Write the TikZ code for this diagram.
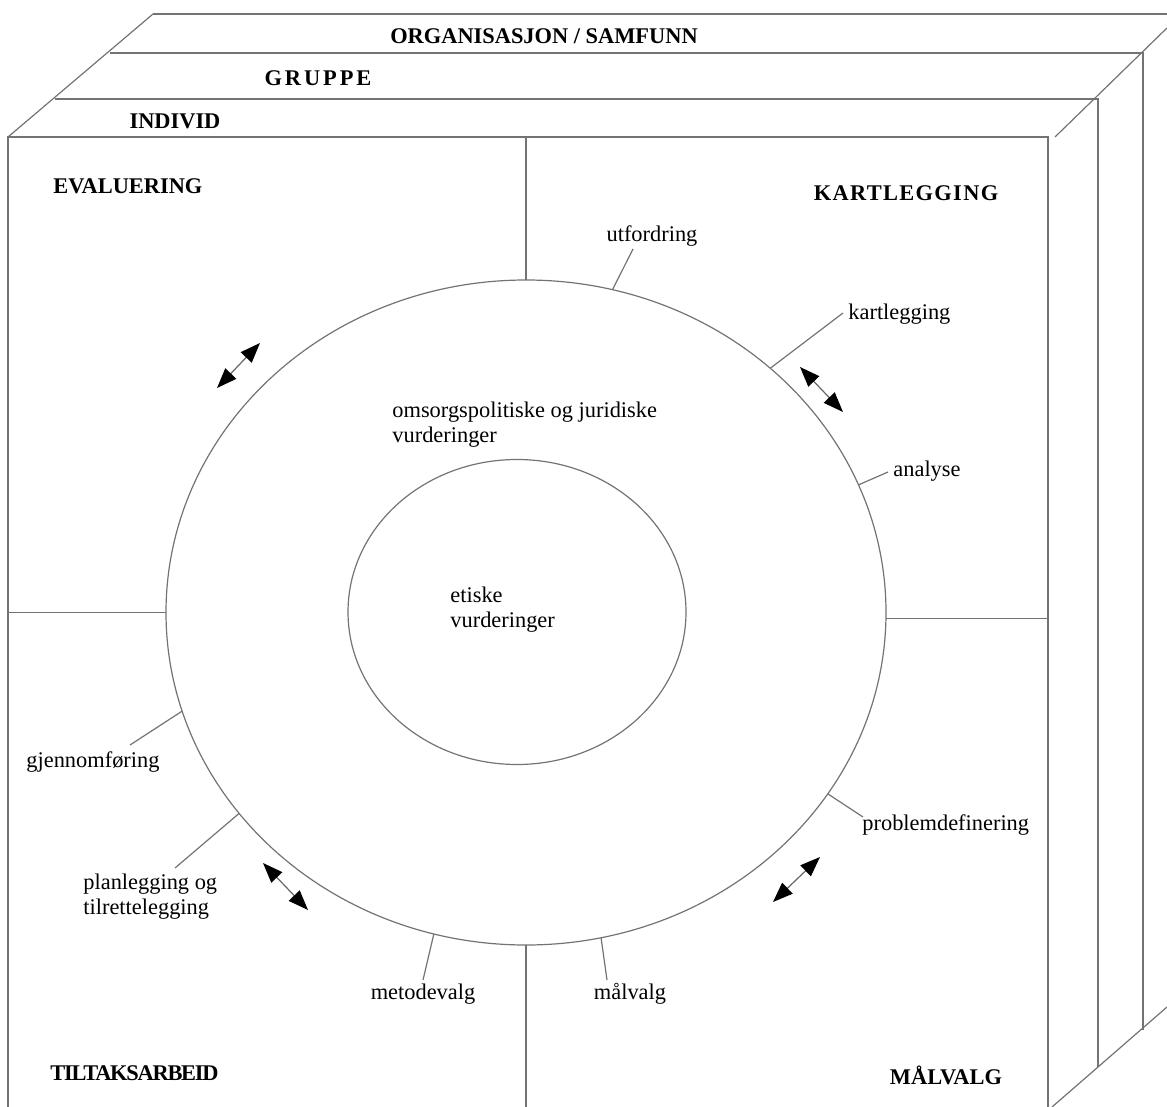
\documentclass[tikz,border=0pt]{standalone}
\usepackage{fontspec}
\setmainfont{Liberation Serif}
\usetikzlibrary{positioning, arrows.meta, shapes.geometric}

\begin{document}
\begin{tikzpicture}[
    x=0.5pt, y=-0.5pt,
    frame/.style={draw=black!55, line width=0.6pt},
    ring/.style={ellipse, frame, inner sep=0pt, outer sep=0pt},
    layer/.style={font=\fontsize{11.2}{13}\selectfont\bfseries, inner sep=0pt},
    phase/.style={font=\fontsize{11.2}{13}\selectfont\bfseries, inner sep=0pt},
    lbl/.style={font=\fontsize{11.2}{12.5}\selectfont, inner sep=0pt, align=left},
    turn/.style={{Triangle[length=10pt,width=7.5pt,color=black]}-{Triangle[length=10pt,width=7.5pt,color=black]},
    draw=black!60, line width=0.6pt}
]
\useasboundingbox (0,0) rectangle (1167,1107);

% the box with its three layers
\coordinate (ftl) at (8,137);
\coordinate (ftr) at (1048,137);
\coordinate (fbl) at (8,1107);
\coordinate (fbr) at (1048,1107);
\draw[frame] (fbl) -- (ftl) -- (ftr) -- (fbr);
\draw[frame] (ftl) -- (153,14);
\draw[frame] (55,99) -- (1098,99) -- (1098,1067);
\draw[frame] (110,53) -- (1143,53) -- (1143,1030);
\draw[frame] (153,14) -- (1167,14);
\draw[frame] (1055,137) -- (1167,28);
\draw[frame] (1052,1107) -- (1167,1007);

\node[layer] (org) at (544,36) {ORGANISASJON / SAMFUNN};
\node[layer] (grp) at (318,78) {\addfontfeature{LetterSpace=13}GRUPPE};
\node[layer] (ind) at (175,121) {INDIVID};

% circles
\node[ring, minimum width=360pt, minimum height=332.5pt] (outer) at (526,612.5) {};
\node[ring, minimum width=169pt, minimum height=152.5pt] (inner) at (517,612) {};

% quadrants
\draw[frame] (outer.north) -- (outer.north |- ftl);
\draw[frame] (outer.south) -- (outer.south |- fbl);
\draw[frame] (ftl |- outer.west) -- (outer.west);
\draw[frame] (outer.-1) -- (outer.-1 -| ftr);

\node[phase, anchor=west] (eva) at (53,186) {EVALUERING};
\node[phase] (kar) at (906,193) {\addfontfeature{LetterSpace=6}KARTLEGGING};
\node[phase, anchor=west] (til) at (50,1073) {\addfontfeature{LetterSpace=-5.5}TILTAKSARBEID};
\node[phase] (mlv) at (946,1075) {MÅLVALG};

\node[lbl, anchor=west] (jur) at (392,424.5) {omsorgspolitiske og juridiske\\vurderinger};
\node[lbl, anchor=west] (eti) at (450,609.5) {etiske\\vurderinger};

% steps round the circle
\coordinate (c-utf) at (633,249);
\coordinate (c-kar) at (843,313);
\coordinate (c-ana) at (888,472);
\coordinate (c-pro) at (863,817);
\coordinate (c-mal) at (607,980);
\coordinate (c-met) at (423,980);
\coordinate (c-pla) at (175,868);
\coordinate (c-gje) at (130,745);

\draw[frame] (outer.75) -- (c-utf);
\draw[frame] (outer.45.4) -- (c-kar);
\draw[frame] (outer.21) -- (c-ana);
\draw[frame] (outer.-31.2) -- (c-pro);
\draw[frame] (outer.-77) -- (c-mal);
\draw[frame] (outer.254.8) -- (c-met);
\draw[frame] (outer.215.9) -- (c-pla);
\draw[frame] (outer.196.4) -- (c-gje);

\node[lbl] (utf) at (652,236) {utfordring};
\node[lbl, anchor=west] (kartl) at (848,314) {kartlegging};
\node[lbl, anchor=west] (ana) at (893,471) {analyse};
\node[lbl, anchor=west] (pro) at (862,825) {problemdefinering};
\node[lbl] (mal) at (630,994) {målvalg};
\node[lbl] (met) at (423,994) {metodevalg};
\node[lbl, anchor=west] (pla) at (83,897) {planlegging og\\tilrettelegging};
\node[lbl, anchor=west] (gje) at (26,762) {gjennomføring};

% arrows
\draw[turn] (217,388) -- (260,343);
\draw[turn] (800,367) -- (843,412);
\draw[turn] (263,863) -- (308,910);
\draw[turn] (820,857) -- (773,902);

\end{tikzpicture}
\end{document}
